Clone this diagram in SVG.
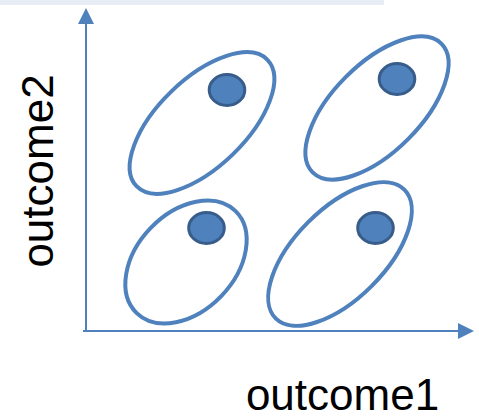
<svg xmlns="http://www.w3.org/2000/svg" width="479" height="420" viewBox="0 0 479 420">
<style>
.cl{fill:none;stroke:#4f81bd;stroke-width:4}
.dot{fill:#4f81bd;stroke:#385d8a;stroke-width:3}
.ax{stroke:#4f81bd;stroke-width:2;fill:none}
.lbl{font-family:"Liberation Sans",Arial,sans-serif;font-size:44px;fill:#000}
</style>
<defs>
<marker id="arr" markerUnits="userSpaceOnUse" markerWidth="16" markerHeight="16" refX="0" refY="8" orient="auto">
<path d="M0,0 L16,8 L0,16 z" fill="#4f81bd"/>
</marker>
</defs>
<rect x="0" y="0" width="384" height="5" fill="#e8ecf5"/>
<g id="connectors">
<line class="ax" x1="86" y1="331" x2="86" y2="24" marker-end="url(#arr)"/>
<line class="ax" x1="83" y1="331" x2="458" y2="331" marker-end="url(#arr)"/>
</g>
<g id="cluster1">
<ellipse class="cl" cx="202" cy="123" rx="91" ry="44" transform="rotate(-44 202 123)"/>
<ellipse class="dot" cx="227" cy="90" rx="17.8" ry="15.5"/>
</g>
<g id="cluster2">
<ellipse class="cl" cx="377" cy="108" rx="91" ry="44" transform="rotate(-45 377 108)"/>
<ellipse class="dot" cx="397" cy="79" rx="17.8" ry="15.5"/>
</g>
<g id="cluster3">
<ellipse class="cl" cx="186" cy="262" rx="71" ry="49" transform="rotate(-46 186 262)"/>
<ellipse class="dot" cx="206.5" cy="228" rx="17.8" ry="15.5"/>
</g>
<g id="cluster4">
<ellipse class="cl" cx="340" cy="254" rx="91" ry="45" transform="rotate(-45 340 254)"/>
<ellipse class="dot" cx="375.5" cy="228" rx="17.8" ry="15.5"/>
</g>
<g id="xlabel">
<text class="lbl" x="342.5" y="410" text-anchor="middle">outcome1</text>
</g>
<g id="ylabel">
<text class="lbl" transform="translate(53 171) rotate(-90)" x="0" y="0" text-anchor="middle">outcome2</text>
</g>
</svg>
